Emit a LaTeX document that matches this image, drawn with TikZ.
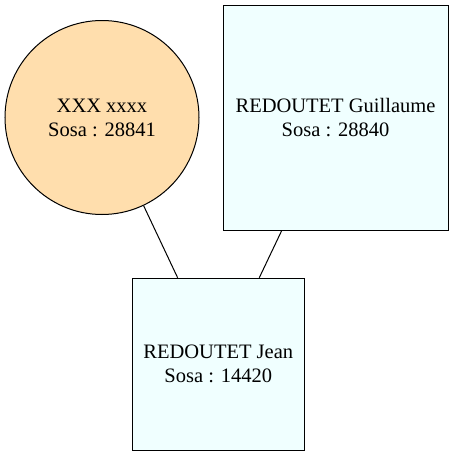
\documentclass[tikz,border=0pt]{standalone}
\usepackage{fontspec}
\setmainfont{Liberation Serif}
\tikzset{
  person/.style={draw=black, line width=1pt, align=center, inner sep=0pt,
    font=\fontsize{20.5}{24}\selectfont},
  female/.style={person, circle, fill=navajowhite, minimum size=194pt},
  male/.style={person, rectangle, fill=azurefill},
  link/.style={draw=black, line width=1pt}
}
\definecolor{navajowhite}{HTML}{FFDEAD}
\definecolor{azurefill}{HTML}{F0FFFF}
\begin{document}
\begin{tikzpicture}[x=1pt,y=-1pt]
\useasboundingbox (0,0) rectangle (454,456);
\node[female] (mother) at (102,117.5) {XXX xxxx\\Sosa : 28841};
\node[male, minimum width=225pt, minimum height=225pt] (father) at (335.5,117.5) {REDOUTET Guillaume\\Sosa : 28840};
\node[male, minimum width=172pt, minimum height=172pt] (child) at (218.3,364.2) {REDOUTET Jean\\Sosa : 14420};
\draw[link] (mother) -- (child);
\draw[link] (father) -- (child);
\end{tikzpicture}
\end{document}
